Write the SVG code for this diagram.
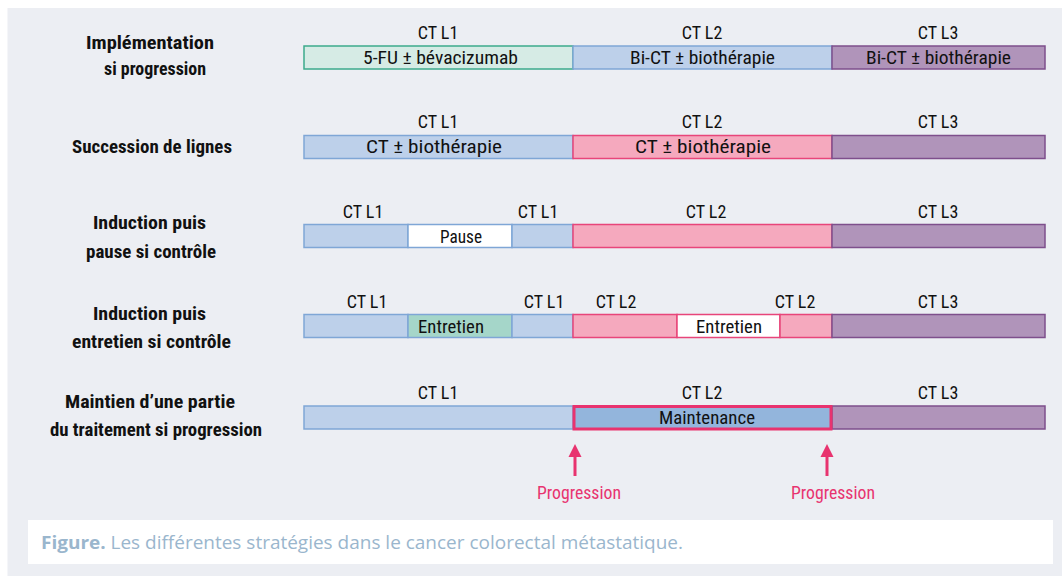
<svg xmlns="http://www.w3.org/2000/svg" width="1062" height="576" viewBox="0 0 1062 576">
<defs>
<style>
.t{font-family:"Roboto Condensed","Liberation Sans Narrow","DejaVu Sans Condensed","Liberation Sans",sans-serif;font-size:19px;fill:#111;text-anchor:middle}
.c{font-size:18px}
.b{font-weight:bold}
.g{fill:#D6EBE5;stroke:#3DAA8C;stroke-width:1.5}
.bl{fill:#BDD0EA;stroke:#7FA6D6;stroke-width:1.5}
.pu{fill:#B094BA;stroke:#7E4F8C;stroke-width:1.5}
.pk{fill:#F5A9BE;stroke:#E8457A;stroke-width:1.5}
.wb{fill:#FFFFFF;stroke:#7FA6D6;stroke-width:1.5}
.wp{fill:#FFFFFF;stroke:#E8457A;stroke-width:1.5}
.eg{fill:#A5D6C9;stroke:#7FA6D6;stroke-width:1.5}
.mt{fill:#93B5DC;stroke:#E8336F;stroke-width:3}
.pr{fill:#E8336F;text-anchor:middle;font-family:"Roboto Condensed","Liberation Sans Narrow","DejaVu Sans Condensed","Liberation Sans",sans-serif;font-size:19px}
.ar{stroke:#E8336F;stroke-width:3}
.ah{fill:#E8336F}
.cap{font-family:"Open Sans","Noto Sans",sans-serif;font-size:17.5px;fill:#9AB6CD}
</style>
</defs>
<rect x="0" y="0" width="1062" height="576" fill="#FFFFFF"/>
<rect x="7.5" y="8" width="1054.5" height="568" fill="#ECEEF3"/>

<g id="row1">
<text class="t b" x="150" y="49" textLength="128" lengthAdjust="spacingAndGlyphs">Implémentation</text>
<text class="t b" x="155" y="75" textLength="102" lengthAdjust="spacingAndGlyphs">si progression</text>
<rect class="g" x="304" y="46" width="269" height="23"/>
<rect class="bl" x="573" y="46" width="259" height="23"/>
<rect class="pu" x="832" y="46" width="213" height="23"/>
<text class="t c" x="438" y="39">CT L1</text>
<text class="t c" x="702" y="39">CT L2</text>
<text class="t c" x="938" y="39">CT L3</text>
<text class="t" x="440.5" y="64" textLength="155" lengthAdjust="spacingAndGlyphs">5-FU ± bévacizumab</text>
<text class="t" x="702.5" y="64" textLength="145" lengthAdjust="spacingAndGlyphs">Bi-CT ± biothérapie</text>
<text class="t" x="938.5" y="64" textLength="145" lengthAdjust="spacingAndGlyphs">Bi-CT ± biothérapie</text>
</g>

<g id="row2">
<text class="t b" x="152" y="153" textLength="160" lengthAdjust="spacingAndGlyphs">Succession de lignes</text>
<rect class="bl" x="304" y="135.5" width="269" height="23"/>
<rect class="pk" x="573" y="135.5" width="259" height="23"/>
<rect class="pu" x="832" y="135.5" width="213" height="23"/>
<text class="t c" x="438" y="128">CT L1</text>
<text class="t c" x="702" y="128">CT L2</text>
<text class="t c" x="938" y="128">CT L3</text>
<text class="t" x="434" y="153" textLength="136" lengthAdjust="spacingAndGlyphs">CT ± biothérapie</text>
<text class="t" x="703" y="153" textLength="136" lengthAdjust="spacingAndGlyphs">CT ± biothérapie</text>
</g>

<g id="row3">
<text class="t b" x="149.5" y="229" textLength="113" lengthAdjust="spacingAndGlyphs">Induction puis</text>
<text class="t b" x="151" y="258" textLength="130" lengthAdjust="spacingAndGlyphs">pause si contrôle</text>
<rect class="bl" x="304" y="224.5" width="104" height="23"/>
<rect class="wb" x="408" y="224.5" width="104" height="23"/>
<rect class="bl" x="512" y="224.5" width="61" height="23"/>
<rect class="pk" x="573" y="224.5" width="259" height="23"/>
<rect class="pu" x="832" y="224.5" width="213" height="23"/>
<text class="t c" x="363" y="218">CT L1</text>
<text class="t c" x="538" y="218">CT L1</text>
<text class="t c" x="706" y="218">CT L2</text>
<text class="t c" x="938" y="218">CT L3</text>
<text class="t" x="461" y="243" textLength="42" lengthAdjust="spacingAndGlyphs">Pause</text>
</g>

<g id="row4">
<text class="t b" x="149.5" y="320" textLength="113" lengthAdjust="spacingAndGlyphs">Induction puis</text>
<text class="t b" x="151.5" y="348" textLength="159" lengthAdjust="spacingAndGlyphs">entretien si contrôle</text>
<rect class="bl" x="304" y="314.5" width="104" height="23"/>
<rect class="eg" x="408" y="314.5" width="104" height="23"/>
<rect class="bl" x="512" y="314.5" width="61" height="23"/>
<rect class="pk" x="573" y="314.5" width="104" height="23"/>
<rect class="wp" x="677" y="314.5" width="103" height="23"/>
<rect class="pk" x="780" y="314.5" width="52" height="23"/>
<rect class="pu" x="832" y="314.5" width="213" height="23"/>
<text class="t c" x="367" y="308">CT L1</text>
<text class="t c" x="544" y="308">CT L1</text>
<text class="t c" x="616" y="308">CT L2</text>
<text class="t c" x="795" y="308">CT L2</text>
<text class="t c" x="938" y="308">CT L3</text>
<text class="t" x="451" y="333" textLength="66" lengthAdjust="spacingAndGlyphs">Entretien</text>
<text class="t" x="729" y="333" textLength="66" lengthAdjust="spacingAndGlyphs">Entretien</text>
</g>

<g id="row5">
<text class="t b" x="150" y="408" textLength="170" lengthAdjust="spacingAndGlyphs">Maintien d’une partie</text>
<text class="t b" x="156" y="436" textLength="212" lengthAdjust="spacingAndGlyphs">du traitement si progression</text>
<rect class="bl" x="304" y="406" width="269" height="23"/>
<rect class="pu" x="832" y="406" width="213" height="23"/>
<rect class="mt" x="574" y="406.5" width="257" height="22.5"/>
<text class="t c" x="438" y="399">CT L1</text>
<text class="t c" x="702" y="399">CT L2</text>
<text class="t c" x="938" y="399">CT L3</text>
<text class="t" x="707" y="424" textLength="96" lengthAdjust="spacingAndGlyphs">Maintenance</text>
</g>

<g id="connectors">
<line class="ar" x1="575" y1="476" x2="575" y2="454"/>
<polygon class="ah" points="575,444 581.5,457 568.5,457"/>
<line class="ar" x1="827" y1="476" x2="827" y2="454"/>
<polygon class="ah" points="827,444 833.5,457 820.5,457"/>
</g>

<g id="progression1"><text class="pr" x="579" y="499" textLength="84" lengthAdjust="spacingAndGlyphs">Progression</text></g>
<g id="progression2"><text class="pr" x="833" y="499" textLength="84" lengthAdjust="spacingAndGlyphs">Progression</text></g>

<g id="caption">
<rect x="28" y="520" width="1025" height="44" fill="#FFFFFF"/>
<text class="cap" x="41" y="549" textLength="642" lengthAdjust="spacingAndGlyphs"><tspan font-weight="bold">Figure.</tspan> Les différentes stratégies dans le cancer colorectal métastatique.</text>
</g>
</svg>
